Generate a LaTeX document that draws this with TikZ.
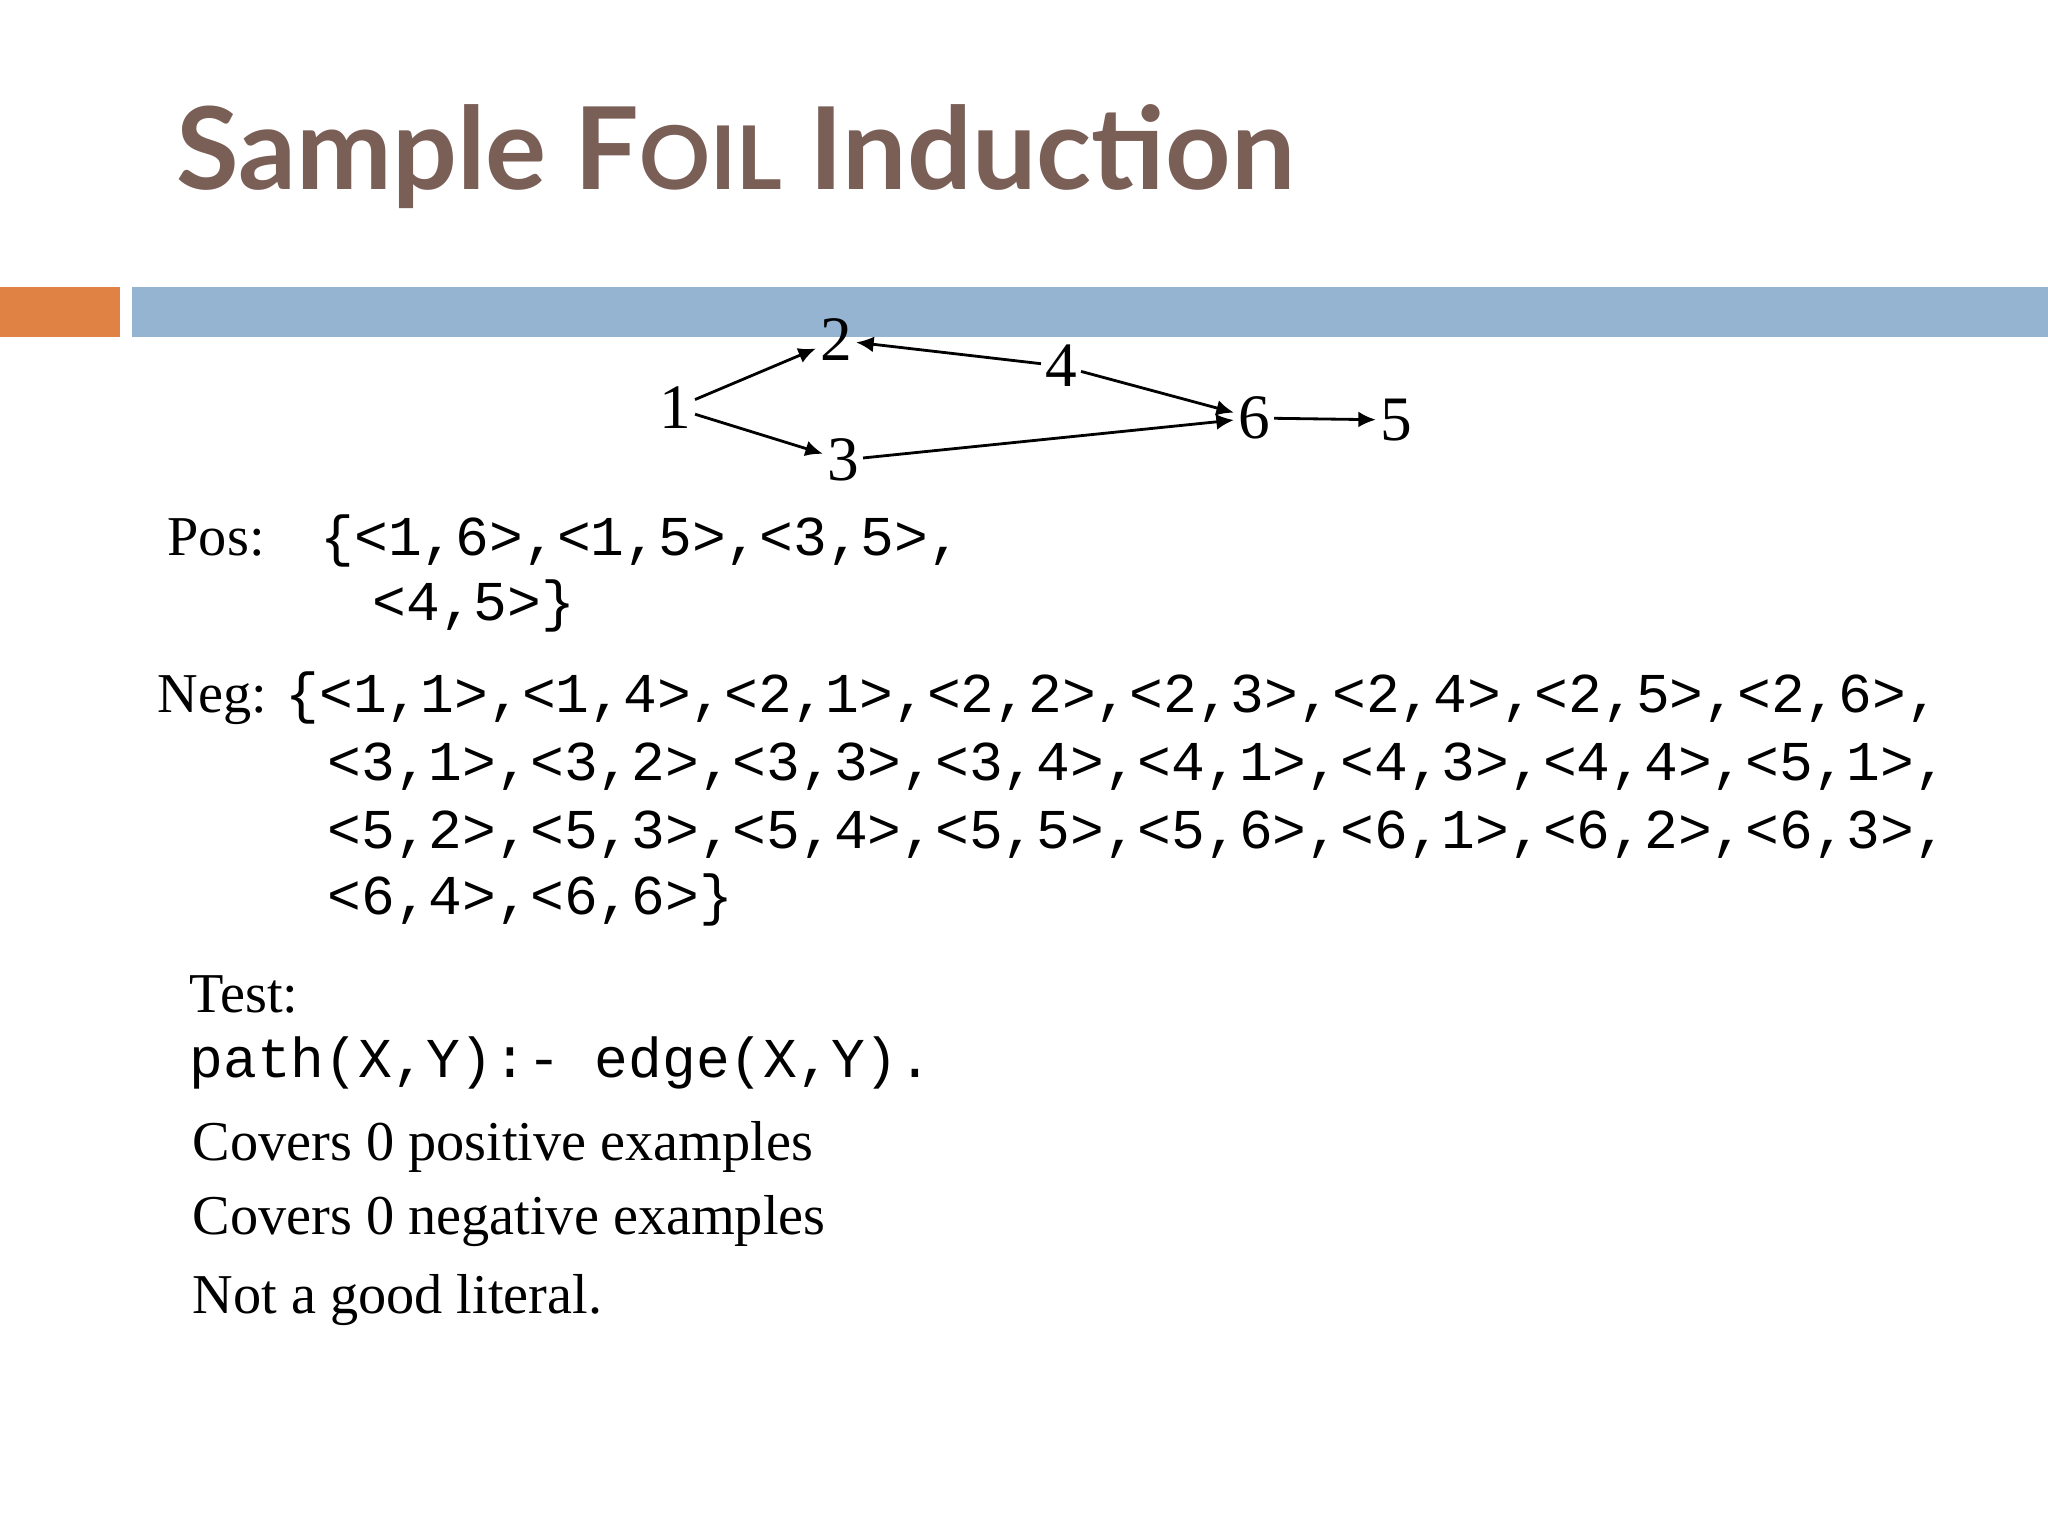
\documentclass[tikz,border=0pt]{standalone}
\usepackage{fontspec}
\setmainfont{Liberation Serif}
\setmonofont{Liberation Mono}
\newfontfamily\titlefont{Lato}
\usetikzlibrary{arrows.meta}
\definecolor{titlebrown}{HTML}{7A5F57}
\definecolor{barblue}{HTML}{94B4D2}
\definecolor{barorange}{HTML}{DF8244}
\begin{document}
\begin{tikzpicture}[x=0.01cm,y=-0.01cm,
  txt/.style={anchor=base west,inner sep=0pt,font=\fontsize{16}{19}\selectfont},
  mono/.style={anchor=base west,inner sep=0pt,font=\fontsize{16}{19}\selectfont\ttfamily},
  vtx/.style={inner sep=1pt,font=\fontsize{18}{20}\selectfont},
  edge/.style={-{Latex[length=5pt,width=4.5pt]},line width=0.8pt}]
\useasboundingbox[fill=white] (0,0) rectangle (2048,1536);
\fill[barorange] (0,287) rectangle (120,337);
\fill[barblue] (132,287) rectangle (2048,337);
\node[anchor=base west,inner sep=0pt,text=titlebrown,font=\titlefont\bfseries\fontsize{32.5}{38}\selectfont] (title) at (176,189)
 {Sample F{\fontsize{25}{29}\selectfont OIL} Induction};
\node[vtx] (n1) at (675,408) {1};
\node[vtx] (n2) at (836,340) {2};
\node[vtx] (n3) at (843,460) {3};
\node[vtx] (n4) at (1061,366) {4};
\node[vtx] (n6) at (1254,418) {6};
\node[vtx] (n5) at (1396,420) {5};
\draw[edge] (n1) -- (n2);
\draw[edge] (n1) -- (n3);
\draw[edge] (n4) -- (n2);
\draw[edge] (n4) -- (n6);
\draw[edge] (n3) -- (n6);
\draw[edge] (n6) -- (n5);
\node[txt] (pos) at (167,555) {Pos:};
\node[mono] (p1) at (320,555) {\{<1,6>,<1,5>,<3,5>,};
\node[mono] (p2) at (372,620) {<4,5>\}};
\node[txt] (neg) at (157,712) {Neg:};
\node[mono] (q1) at (285,712) {\{<1,1>,<1,4>,<2,1>,<2,2>,<2,3>,<2,4>,<2,5>,<2,6>,};
\node[mono] (q2) at (327,780) {<3,1>,<3,2>,<3,3>,<3,4>,<4,1>,<4,3>,<4,4>,<5,1>,};
\node[mono] (q3) at (327,848) {<5,2>,<5,3>,<5,4>,<5,5>,<5,6>,<6,1>,<6,2>,<6,3>,};
\node[mono] (q4) at (327,914) {<6,4>,<6,6>\}};
\node[txt] (test) at (189,1012) {Test:};
\node[mono] (rule) at (189,1077) {path(X,Y):- edge(X,Y).};
\node[txt] (c1) at (192,1160) {Covers 0 positive examples};
\node[txt] (c2) at (192,1234) {Covers 0 negative examples};
\node[txt] (c3) at (192,1313) {Not a good literal.};
\end{tikzpicture}
\end{document}
